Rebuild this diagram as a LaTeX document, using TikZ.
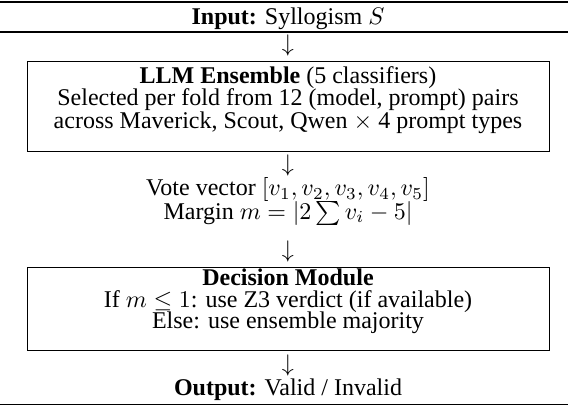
\documentclass[tikz,border=0pt]{standalone}
\usepackage{fontspec}
\setmainfont{Liberation Serif}
\begin{document}
\begin{tikzpicture}[x=0.41667pt, y=-0.41667pt,
  txt/.style={anchor=base, inner sep=0pt, text height=6.6pt, text depth=1.6pt, font=\fontsize{10}{9.17}\selectfont},
  frame/.style={draw, line width=0.4pt, inner sep=0pt},
  thickrule/.style={line width=0.8pt},
  thinrule/.style={line width=0.5pt}]
\useasboundingbox (0,0) rectangle (568,406);
% rules
\draw[thickrule] (0,2) -- (568,2);
\draw[thinrule] (0,32) -- (568,32);
\draw[thickrule] (0,404.5) -- (568,404.5);
% input
\node[txt] (in) at (288,24) {\textbf{Input:} Syllogism $S$};
\node[txt] (a1) at (288,51) {$\downarrow$};
% ensemble box
\node[frame, minimum width=217.5pt, minimum height=37.5pt] (ens) at (288,106) {};
\node[txt] (e1) at (288,83) {\textbf{LLM Ensemble} (5 classifiers)};
\node[txt] (e2) at (288,105.5) {Selected per fold from 12 (model, prompt) pairs};
\node[txt] (e3) at (288,128) {across Maverick, Scout, Qwen $\times$ 4 prompt types};
\node[txt] (a2) at (288,171) {$\downarrow$};
% vote
\node[txt] (v1) at (288,195.5) {Vote vector $[v_1, v_2, v_3, v_4, v_5]$};
\node[txt] (v2) at (288,219) {Margin $m = |2\sum v_i - 5|$};
\node[txt] (a3) at (288,257) {$\downarrow$};
% decision box
\node[frame, minimum width=217.5pt, minimum height=34.58pt] (dec) at (288,308.5) {};
\node[txt] (d1) at (288,285) {\textbf{Decision Module}};
\node[txt] (d2) at (288,307) {If $m \leq 1$: use Z3 verdict (if available)};
\node[txt] (d3) at (288,328) {Else: use ensemble majority};
\node[txt] (a4) at (288,371) {$\downarrow$};
\node[txt] (out) at (288,395) {\textbf{Output:} Valid / Invalid};
\end{tikzpicture}
\end{document}
